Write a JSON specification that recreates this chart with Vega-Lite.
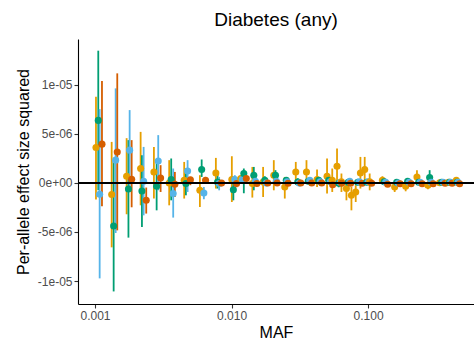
{
"$schema": "https://vega.github.io/schema/vega-lite/v6.json",
"width": 396, "height": 265,
"autosize": {"type": "none"},
"padding": {"left": 78, "top": 39, "right": 0, "bottom": 46},
"title": {"text": "Diabetes (any)", "fontSize": 19, "font": "Liberation Sans", "fontWeight": "normal", "color": "#000000", "anchor": "middle", "offset": 9},
"config": {"view": {"stroke": null}},
"data": {"values": [
{"maf":0.001017,"g":"g1","est":3.60e-6,"lo":-1.70e-6,"hi":8.77e-6},
{"maf":0.001057,"g":"g2","est":6.36e-6,"lo":-0.76e-6,"hi":13.46e-6},
{"maf":0.001082,"g":"g3","est":-1.16e-6,"lo":-9.73e-6,"hi":7.51e-6},
{"maf":0.001125,"g":"g4","est":3.94e-6,"lo":-2.39e-6,"hi":10.37e-6},
{"maf":0.001325,"g":"g1","est":-1.19e-6,"lo":-6.57e-6,"hi":4.17e-6},
{"maf":0.001370,"g":"g2","est":-4.40e-6,"lo":-11.06e-6,"hi":2.31e-6},
{"maf":0.001417,"g":"g3","est":2.31e-6,"lo":-5.11e-6,"hi":9.62e-6},
{"maf":0.001456,"g":"g4","est":3.15e-6,"lo":-4.84e-6,"hi":11.15e-6},
{"maf":0.001705,"g":"g1","est":0.67e-6,"lo":-3.20e-6,"hi":4.55e-6},
{"maf":0.001758,"g":"g2","est":-0.62e-6,"lo":-5.58e-6,"hi":4.35e-6},
{"maf":0.001794,"g":"g3","est":3.33e-6,"lo":-0.76e-6,"hi":7.41e-6},
{"maf":0.001856,"g":"g4","est":0.37e-6,"lo":-2.49e-6,"hi":4.35e-6},
{"maf":0.002159,"g":"g1","est":1.46e-6,"lo":-2.29e-6,"hi":5.19e-6},
{"maf":0.002207,"g":"g2","est":-0.83e-6,"lo":-4.50e-6,"hi":2.82e-6},
{"maf":0.002271,"g":"g3","est":0.16e-6,"lo":-3.31e-6,"hi":3.66e-6},
{"maf":0.002373,"g":"g4","est":-1.78e-6,"lo":-3.13e-6,"hi":-0.48e-6},
{"maf":0.002701,"g":"g1","est":1.11e-6,"lo":-1.60e-6,"hi":3.66e-6},
{"maf":0.002828,"g":"g2","est":-0.35e-6,"lo":-2.80e-6,"hi":2.13e-6},
{"maf":0.002905,"g":"g3","est":2.23e-6,"lo":-0.76e-6,"hi":4.86e-6},
{"maf":0.003024,"g":"g4","est":0.50e-6,"lo":-0.93e-6,"hi":1.80e-6},
{"maf":0.003495,"g":"g1","est":-0.01e-6,"lo":-2.29e-6,"hi":2.31e-6},
{"maf":0.003615,"g":"g2","est":0.34e-6,"lo":-1.78e-6,"hi":2.48e-6},
{"maf":0.003739,"g":"g3","est":-1.09e-6,"lo":-3.54e-6,"hi":1.46e-6},
{"maf":0.003847,"g":"g4","est":-0.14e-6,"lo":-1.44e-6,"hi":1.11e-6},
{"maf":0.004501,"g":"g1","est":0.27e-6,"lo":-1.60e-6,"hi":2.13e-6},
{"maf":0.004632,"g":"g2","est":-0.07e-6,"lo":-1.27e-6,"hi":1.46e-6},
{"maf":0.004766,"g":"g3","est":1.21e-6,"lo":-0.93e-6,"hi":2.31e-6},
{"maf":0.004996,"g":"g4","est":0.32e-6,"lo":-0.24e-6,"hi":0.60e-6},
{"maf":0.005863,"g":"g1","est":-0.76e-6,"lo":-2.46e-6,"hi":0.78e-6},
{"maf":0.006043,"g":"g2","est":1.36e-6,"lo":0.60e-6,"hi":2.38e-6},
{"maf":0.006271,"g":"g3","est":-1.03e-6,"lo":-1.67e-6,"hi":-0.42e-6},
{"maf":0.006454,"g":"g4","est":0.27e-6,"lo":-0.07e-6,"hi":0.60e-6},
{"maf":0.007677,"g":"g1","est":1.01e-6,"lo":-0.58e-6,"hi":2.54e-6},
{"maf":0.007900,"g":"g2","est":0.09e-6,"lo":-0.58e-6,"hi":0.95e-6},
{"maf":0.008116,"g":"g3","est":-0.07e-6,"lo":-0.76e-6,"hi":0.60e-6},
{"maf":0.008451,"g":"g4","est":-0.01e-6,"lo":-0.35e-6,"hi":0.27e-6},
{"maf":0.01005,"g":"g1","est":0.34e-6,"lo":-1.95e-6,"hi":2.71e-6},
{"maf":0.01031,"g":"g2","est":-0.70e-6,"lo":-1.78e-6,"hi":0.09e-6},
{"maf":0.01057,"g":"g3","est":0.34e-6,"lo":-0.93e-6,"hi":0.78e-6},
{"maf":0.01088,"g":"g4","est":-0.07e-6,"lo":-0.45e-6,"hi":0.27e-6},
{"maf":0.01169,"g":"g1","est":0.44e-6,"lo":-0.07e-6,"hi":0.78e-6},
{"maf":0.01199,"g":"g3","est":0.34e-6,"lo":-0.04e-6,"hi":0.67e-6},
{"maf":0.01230,"g":"g2","est":0.95e-6,"lo":-1.06e-6,"hi":1.46e-6},
{"maf":0.01283,"g":"g4","est":0.44e-6,"lo":0.16e-6,"hi":0.72e-6},
{"maf":0.01420,"g":"g1","est":-0.07e-6,"lo":-1.50e-6,"hi":1.62e-6},
{"maf":0.01456,"g":"g2","est":0.78e-6,"lo":-0.76e-6,"hi":1.62e-6},
{"maf":0.01494,"g":"g3","est":0.16e-6,"lo":-0.24e-6,"hi":0.57e-6},
{"maf":0.01532,"g":"g4","est":-0.07e-6,"lo":-0.35e-6,"hi":0.21e-6},
{"maf":0.01703,"g":"g1","est":0.09e-6,"lo":-1.44e-6,"hi":1.62e-6},
{"maf":0.01752,"g":"g2","est":0.27e-6,"lo":-0.14e-6,"hi":0.67e-6},
{"maf":0.01797,"g":"g3","est":-0.01e-6,"lo":-0.35e-6,"hi":0.37e-6},
{"maf":0.01843,"g":"g4","est":-0.01e-6,"lo":-0.30e-6,"hi":0.27e-6},
{"maf":0.02039,"g":"g1","est":0.78e-6,"lo":-0.76e-6,"hi":2.31e-6},
{"maf":0.02098,"g":"g2","est":0.78e-6,"lo":0.27e-6,"hi":1.29e-6},
{"maf":0.02127,"g":"g3","est":0.16e-6,"lo":-0.14e-6,"hi":0.46e-6},
{"maf":0.02156,"g":"g4","est":-0.01e-6,"lo":-0.30e-6,"hi":0.27e-6},
{"maf":0.02454,"g":"g1","est":-0.42e-6,"lo":-1.60e-6,"hi":0.60e-6},
{"maf":0.02517,"g":"g2","est":0.27e-6,"lo":-0.04e-6,"hi":0.57e-6},
{"maf":0.02550,"g":"g3","est":0.11e-6,"lo":-0.14e-6,"hi":0.37e-6},
{"maf":0.02595,"g":"g4","est":-0.04e-6,"lo":-0.30e-6,"hi":0.21e-6},
{"maf":0.02954,"g":"g1","est":1.11e-6,"lo":0.09e-6,"hi":2.13e-6},
{"maf":0.03055,"g":"g2","est":0.09e-6,"lo":-0.24e-6,"hi":0.47e-6},
{"maf":0.03133,"g":"g3","est":-0.01e-6,"lo":-0.35e-6,"hi":0.32e-6},
{"maf":0.03214,"g":"g4","est":-0.01e-6,"lo":-0.24e-6,"hi":0.21e-6},
{"maf":0.03538,"g":"g1","est":1.11e-6,"lo":-0.07e-6,"hi":2.31e-6},
{"maf":0.03647,"g":"g2","est":0.16e-6,"lo":-0.14e-6,"hi":0.47e-6},
{"maf":0.03740,"g":"g3","est":0.27e-6,"lo":-0.04e-6,"hi":0.57e-6},
{"maf":0.03868,"g":"g4","est":-0.01e-6,"lo":-0.24e-6,"hi":0.21e-6},
{"maf":0.04228,"g":"g1","est":0.34e-6,"lo":-0.42e-6,"hi":1.36e-6},
{"maf":0.04351,"g":"g2","est":0.27e-6,"lo":-0.04e-6,"hi":0.57e-6},
{"maf":0.04462,"g":"g3","est":0.11e-6,"lo":-0.14e-6,"hi":0.37e-6},
{"maf":0.04576,"g":"g4","est":-0.01e-6,"lo":-0.24e-6,"hi":0.21e-6},
{"maf":0.05005,"g":"g1","est":0.67e-6,"lo":-1.09e-6,"hi":2.48e-6},
{"maf":0.05150,"g":"g2","est":0.27e-6,"lo":-0.14e-6,"hi":0.67e-6},
{"maf":0.05282,"g":"g3","est":0.11e-6,"lo":-0.14e-6,"hi":0.37e-6},
{"maf":0.05463,"g":"g1","est":0.27e-6,"lo":-0.93e-6,"hi":1.46e-6},
{"maf":0.05500,"g":"g4","est":-0.19e-6,"lo":-0.45e-6,"hi":0.06e-6},
{"maf":0.05922,"g":"g1","est":1.69e-6,"lo":-0.07e-6,"hi":3.50e-6},
{"maf":0.06094,"g":"g2","est":-0.04e-6,"lo":-0.45e-6,"hi":0.27e-6},
{"maf":0.06250,"g":"g3","est":0.06e-6,"lo":-0.20e-6,"hi":0.32e-6},
{"maf":0.06380,"g":"g1","est":0.10e-6,"lo":-0.93e-6,"hi":0.95e-6},
{"maf":0.06411,"g":"g4","est":-0.04e-6,"lo":-0.25e-6,"hi":0.18e-6},
{"maf":0.06940,"g":"g1","est":-0.58e-6,"lo":-1.78e-6,"hi":0.27e-6},
{"maf":0.07154,"g":"g2","est":0.06e-6,"lo":-0.20e-6,"hi":0.30e-6},
{"maf":0.07336,"g":"g3","est":0.16e-6,"lo":-0.10e-6,"hi":0.40e-6},
{"maf":0.07450,"g":"g4","est":-0.04e-6,"lo":-0.30e-6,"hi":0.20e-6},
{"maf":0.07548,"g":"g1","est":-1.27e-6,"lo":-2.80e-6,"hi":-0.42e-6},
{"maf":0.08116,"g":"g1","est":-0.93e-6,"lo":-1.95e-6,"hi":-0.24e-6},
{"maf":0.08393,"g":"g2","est":0.06e-6,"lo":-0.20e-6,"hi":0.30e-6},
{"maf":0.08600,"g":"g3","est":0.11e-6,"lo":-0.15e-6,"hi":0.37e-6},
{"maf":0.08785,"g":"g1","est":1.01e-6,"lo":-0.58e-6,"hi":2.64e-6},
{"maf":0.09054,"g":"g4","est":-0.04e-6,"lo":-0.30e-6,"hi":0.20e-6},
{"maf":0.09443,"g":"g1","est":1.36e-6,"lo":-0.07e-6,"hi":2.64e-6},
{"maf":0.09767,"g":"g2","est":0.06e-6,"lo":-0.20e-6,"hi":0.30e-6},
{"maf":0.1000,"g":"g3","est":0.11e-6,"lo":-0.15e-6,"hi":0.37e-6},
{"maf":0.1027,"g":"g1","est":0.11e-6,"lo":-0.76e-6,"hi":0.95e-6},
{"maf":0.1062,"g":"g4","est":-0.04e-6,"lo":-0.30e-6,"hi":0.20e-6},
{"maf":0.1273,"g":"g1","est":0.27e-6,"lo":-0.14e-6,"hi":0.67e-6},
{"maf":0.1312,"g":"g2","est":0.11e-6,"lo":-0.10e-6,"hi":0.30e-6},
{"maf":0.1345,"g":"g3","est":0.06e-6,"lo":-0.10e-6,"hi":0.25e-6},
{"maf":0.1391,"g":"g4","est":-0.14e-6,"lo":-0.30e-6,"hi":0.05e-6},
{"maf":0.1565,"g":"g1","est":-0.42e-6,"lo":-0.93e-6,"hi":0.09e-6},
{"maf":0.1619,"g":"g2","est":0.06e-6,"lo":-0.10e-6,"hi":0.25e-6},
{"maf":0.1660,"g":"g3","est":-0.01e-6,"lo":-0.20e-6,"hi":0.20e-6},
{"maf":0.1717,"g":"g4","est":-0.09e-6,"lo":-0.25e-6,"hi":0.08e-6},
{"maf":0.1884,"g":"g1","est":-0.35e-6,"lo":-0.86e-6,"hi":0.16e-6},
{"maf":0.1948,"g":"g2","est":0.16e-6,"lo":-0.05e-6,"hi":0.35e-6},
{"maf":0.1998,"g":"g3","est":0.06e-6,"lo":-0.10e-6,"hi":0.22e-6},
{"maf":0.2066,"g":"g4","est":-0.09e-6,"lo":-0.25e-6,"hi":0.08e-6},
{"maf":0.2279,"g":"g1","est":0.60e-6,"lo":0.09e-6,"hi":1.29e-6},
{"maf":0.2346,"g":"g2","est":0.06e-6,"lo":-0.10e-6,"hi":0.22e-6},
{"maf":0.2405,"g":"g3","est":0.06e-6,"lo":-0.10e-6,"hi":0.22e-6},
{"maf":0.2488,"g":"g4","est":-0.09e-6,"lo":-0.25e-6,"hi":0.08e-6},
{"maf":0.2743,"g":"g1","est":-0.24e-6,"lo":-0.65e-6,"hi":0.16e-6},
{"maf":0.2823,"g":"g2","est":0.54e-6,"lo":0.09e-6,"hi":1.29e-6},
{"maf":0.2895,"g":"g3","est":0.06e-6,"lo":-0.10e-6,"hi":0.22e-6},
{"maf":0.2994,"g":"g4","est":-0.09e-6,"lo":-0.25e-6,"hi":0.08e-6},
{"maf":0.3341,"g":"g1","est":0.01e-6,"lo":-0.15e-6,"hi":0.18e-6},
{"maf":0.3455,"g":"g2","est":0.06e-6,"lo":-0.10e-6,"hi":0.20e-6},
{"maf":0.3543,"g":"g3","est":0.06e-6,"lo":-0.10e-6,"hi":0.20e-6},
{"maf":0.3665,"g":"g4","est":-0.04e-6,"lo":-0.20e-6,"hi":0.12e-6},
{"maf":0.3887,"g":"g1","est":0.06e-6,"lo":-0.10e-6,"hi":0.20e-6},
{"maf":0.3950,"g":"g2","est":0.06e-6,"lo":-0.10e-6,"hi":0.20e-6},
{"maf":0.4020,"g":"g3","est":0.06e-6,"lo":-0.10e-6,"hi":0.20e-6},
{"maf":0.4123,"g":"g4","est":-0.04e-6,"lo":-0.20e-6,"hi":0.12e-6},
{"maf":0.4425,"g":"g1","est":0.27e-6,"lo":0.01e-6,"hi":0.52e-6},
{"maf":0.4490,"g":"g2","est":0.06e-6,"lo":-0.10e-6,"hi":0.20e-6},
{"maf":0.4550,"g":"g3","est":0.06e-6,"lo":-0.10e-6,"hi":0.20e-6},
{"maf":0.4680,"g":"g4","est":-0.09e-6,"lo":-0.25e-6,"hi":0.08e-6}
]},
"layer": [
{"mark": {"type": "rule", "strokeWidth": 1.8},
 "encoding": {
  "x": {"field": "maf", "type": "quantitative",
        "scale": {"type": "log", "domain": [0.000751, 0.5963], "nice": false},
        "axis": {"values": [0.001, 0.01, 0.1], "format": ".3f", "title": "MAF", "grid": false,
                 "titleFont": "Liberation Sans", "titleFontSize": 16, "titleFontWeight": "normal", "titleColor": "#000000", "titlePadding": 3,
                 "labelFont": "Liberation Sans", "labelFontSize": 12, "labelColor": "#4D4D4D", "labelPadding": 2,
                 "domainColor": "#000000", "domainWidth": 1.1, "tickColor": "#333333", "tickSize": 4, "tickWidth": 1.1}},
  "y": {"field": "lo", "type": "quantitative",
        "scale": {"domain": [-12.34e-6, 14.65e-6], "nice": false, "zero": false},
        "axis": {"values": [-1e-5, -5e-6, 0, 5e-6, 1e-5],
                 "labelExpr": "datum.value > 7e-6 ? '1e-05' : datum.value > 2e-6 ? '5e-06' : datum.value > -2e-6 ? '0e+00' : datum.value > -7e-6 ? '-5e-06' : '-1e-05'",
                 "title": "Per-allele effect size squared", "grid": false,
                 "titleFont": "Liberation Sans", "titleFontSize": 16, "titleFontWeight": "normal", "titleColor": "#000000", "titlePadding": 6,
                 "labelFont": "Liberation Sans", "labelFontSize": 12, "labelColor": "#4D4D4D", "labelPadding": 2,
                 "domainColor": "#000000", "domainWidth": 1.1, "tickColor": "#333333", "tickSize": 4, "tickWidth": 1.1}},
  "y2": {"field": "hi"},
  "color": {"field": "g", "type": "nominal",
            "scale": {"domain": ["g1", "g2", "g3", "g4"], "range": ["#E69F00", "#009E73", "#56B4E9", "#D55E00"]},
            "legend": null}
 }},
{"mark": {"type": "circle", "size": 50, "opacity": 1},
 "encoding": {
  "x": {"field": "maf", "type": "quantitative"},
  "y": {"field": "est", "type": "quantitative"},
  "color": {"field": "g", "type": "nominal", "legend": null}
 }},
{"mark": {"type": "rule", "color": "#000000", "strokeWidth": 1.6},
 "encoding": {"y": {"datum": 0}}}
]
}
